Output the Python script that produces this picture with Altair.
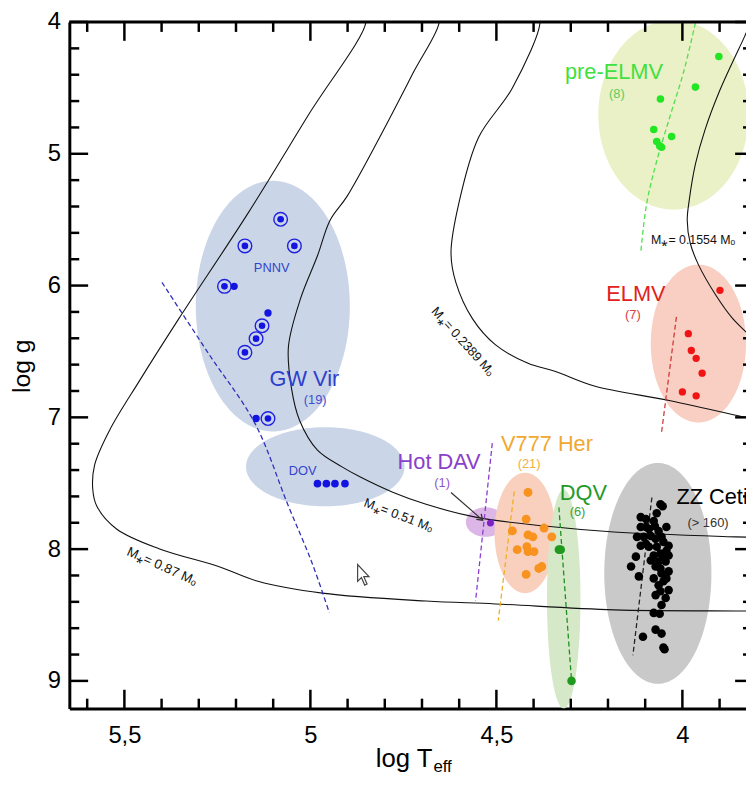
import altair as alt
import numpy as np
import pandas as pd

FONT = "Liberation Sans"
W, H = 684, 694
X_DOMAIN = [3.829, 5.648]
Y_DOMAIN = [4.0, 9.21]

# ---------------- axis ticks ----------------
x_major = [5.5, 5.0, 4.5, 4.0]
x_minor = [5.6, 5.4, 5.3, 5.2, 5.1, 4.9, 4.8, 4.7, 4.6, 4.4, 4.3, 4.2, 4.1, 3.9]
y_major = [4, 5, 6, 7, 8, 9]
y_minor = [4.2, 4.4, 4.6, 4.8, 5.2, 5.4, 5.6, 5.8, 6.2, 6.4, 6.6, 6.8,
           7.2, 7.4, 7.6, 7.8, 8.2, 8.4, 8.6, 8.8]

# ---------------- evolutionary tracks ----------------
trk087_T = [4.861, 4.851, 5.005, 5.168, 5.354, 5.460, 5.540, 5.580, 5.585, 5.574, 5.521,
            5.407, 5.247, 5.141, 4.968, 4.689, 4.503, 4.184, 3.856, 3.820]
trk087_g = [3.94, 4.0, 4.704, 5.452, 6.253, 6.725, 7.099, 7.361, 7.548, 7.675, 7.847,
            7.997, 8.132, 8.244, 8.334, 8.394, 8.416, 8.461, 8.469, 8.470]
trk051_T = [4.664, 4.654, 4.723, 4.814, 4.902, 4.947, 4.981, 5.027, 5.059, 5.051, 5.029,
            4.981, 4.915, 4.867, 4.777, 4.689, 4.556, 4.370, 4.184, 3.856, 3.820]
trk051_g = [3.94, 4.0, 4.382, 4.876, 5.325, 5.504, 5.774, 6.103, 6.463, 6.777, 7.024,
            7.249, 7.376, 7.451, 7.570, 7.660, 7.757, 7.825, 7.870, 7.907, 7.910]
trk02389_T = [4.393, 4.383, 4.457, 4.548, 4.601, 4.622, 4.609, 4.564, 4.503, 4.415, 4.343,
              4.237, 4.032, 3.830, 3.815]
trk02389_g = [3.94, 4.0, 4.501, 4.876, 5.377, 5.751, 5.976, 6.253, 6.448, 6.590, 6.650,
              6.762, 6.874, 7.001, 7.010]
trk01554_T = [3.819, 3.832, 3.899, 3.939, 3.965, 3.981, 3.987, 3.979, 3.957, 3.910, 3.864,
              3.827, 3.811]
trk01554_g = [4.022, 4.105, 4.516, 4.816, 5.078, 5.340, 5.504, 5.677, 5.841, 6.073, 6.253,
              6.358, 6.410]

# ---------------- instability-strip ellipses ----------------
ell_name = ["GW Vir", "DOV", "Hot DAV", "V777 Her", "DQV", "ZZ Ceti", "ELMV", "pre-ELMV"]
ell_T = [5.101, 4.960, 4.529, 4.423, 4.319, 4.066, 3.957, 4.024]
ell_g = [6.156, 7.375, 7.795, 7.877, 8.379, 8.184, 6.440, 4.704]
ell_rT = [0.207, 0.213, 0.053, 0.082, 0.045, 0.144, 0.128, 0.202]
ell_rg = [0.951, 0.300, 0.112, 0.457, 0.831, 0.838, 0.599, 0.719]
ell_col = ["#cad6e8", "#cad6e8", "#dcb6e6", "#f9d0bd", "#d5e8c8", "#c9c9c9", "#f9cec3", "#eaf1c6"]

# ---------------- dashed strip edges ----------------
dash_name = ["gwvir"] * 6 + ["hotdav"] * 2 + ["v777"] * 2 + ["dqv"] * 2 + ["zz"] * 2 + ["elmv"] * 2 + ["pre"] * 6
dash_T = [5.399, 5.274, 5.149, 5.061, 4.995, 4.949,
          4.511, 4.556,
          4.452, 4.495,
          4.332, 4.298,
          4.082, 4.133,
          4.016, 4.056,
          3.965, 3.997, 4.032, 4.069, 4.096, 4.112]
dash_g = [5.976, 6.515, 7.046, 7.660, 8.109, 8.484,
          7.196, 8.394,
          7.563, 8.543,
          7.683, 9.000,
          7.608, 8.805,
          6.238, 7.114,
          4.007, 4.382, 4.704, 5.055, 5.377, 5.751]
dash_colors = {"gwvir": "#3030b8", "hotdav": "#8a3ccc", "v777": "#f0b020", "dqv": "#1e8c1e",
               "zz": "#222222", "elmv": "#d03838", "pre": "#4ee04e"}

# ---------------- stars ----------------
pnnv_ring_T = [5.080, 5.176, 5.043, 5.231, 5.130, 5.146, 5.176, 5.114]
pnnv_ring_g = [5.497, 5.699, 5.699, 6.006, 6.305, 6.403, 6.507, 7.009]
pnnv_T = [5.205, 5.114, 5.146]
pnnv_g = [6.006, 6.208, 7.009]
dov_T = [4.981, 4.957, 4.934, 4.907]
dov_g = [7.503, 7.503, 7.503, 7.503]
hotdav_T = [4.516]
hotdav_g = [7.802]
v777_T = [4.415, 4.420, 4.457, 4.372, 4.351, 4.415, 4.402, 4.444, 4.418, 4.415, 4.399, 4.378, 4.386, 4.420]
v777_g = [7.570, 7.772, 7.862, 7.840, 7.907, 7.892, 7.907, 8.004, 7.982, 8.019, 8.019, 8.132, 8.147, 8.192]
dqv_T = [4.332, 4.327, 4.298]
dqv_g = [8.004, 8.004, 9.000]
zz_T = [4.059, 4.053, 4.069, 4.112, 4.098, 4.077, 4.112, 4.098, 4.043, 4.074,
        4.122, 4.104, 4.085, 4.072, 4.056, 4.051, 4.037, 4.112, 4.090, 4.069,
        4.043, 4.059, 4.077, 4.037, 4.125, 4.085, 4.064, 4.045, 4.138, 4.072,
        4.037, 4.056, 4.117, 4.077, 4.051, 4.064, 4.037, 4.059, 4.072, 4.045,
        4.056, 4.077, 4.061, 4.072, 4.056, 4.106, 4.051, 4.048,
        4.090, 4.064, 4.051, 4.098, 4.059, 4.043]
zz_g = [7.660, 7.675, 7.728, 7.757, 7.772, 7.787, 7.832, 7.832, 7.832, 7.825,
        7.907, 7.907, 7.900, 7.922, 7.907, 7.945, 7.975, 7.975, 7.982, 7.982,
        8.012, 8.034, 8.049, 8.049, 8.057, 8.087, 8.094, 8.094, 8.132, 8.132,
        8.169, 8.184, 8.207, 8.222, 8.244, 8.274, 8.311, 8.319, 8.349, 8.371,
        8.424, 8.484, 8.491, 8.611, 8.641, 8.665, 8.746, 8.760,
        7.847, 7.862, 8.072, 7.960, 8.147, 8.222]
elmv_T = [3.899, 3.984, 3.976, 3.963, 3.947, 4.000, 3.963]
elmv_g = [6.036, 6.365, 6.493, 6.552, 6.665, 6.807, 6.837]
pre_T = [3.902, 3.965, 4.059, 4.077, 4.029, 4.069, 4.056, 4.061]
pre_g = [4.262, 4.494, 4.584, 4.816, 4.868, 4.906, 4.951, 4.940]

# ---------------- labels ----------------
lab_txt = ["GW Vir", "(19)", "PNNV", "DOV", "Hot DAV", "(1)", "V777 Her", "(21)", "DQV", "(6)",
           "(> 160)", "ELMV", "(7)", "pre-ELMV", "(8)",
           "M⁎= 0.1554 Mₒ", "M⁎= 0.2389 Mₒ", "M⁎= 0.51 Mₒ", "M⁎= 0.87 Mₒ"]
lab_T = [5.016, 4.987, 5.104, 5.021, 4.654, 4.646, 4.364, 4.412, 4.266, 4.282,
         3.931, 4.125, 4.133, 4.184, 4.176, 3.971, 4.590, 4.763, 5.399]
lab_g = [6.710, 6.867, 5.864, 7.406, 7.338, 7.496, 7.204, 7.353, 7.578, 7.720,
         7.802, 6.066, 6.223, 4.382, 4.546, 5.654, 6.425, 7.743, 8.132]
lab_col = ["#2f3fcc", "#4050cc", "#3344cc", "#3344cc", "#8a40c8", "#9058c8", "#f0a830", "#f0b040",
           "#23992a", "#3aa03a", "#333333", "#e32020", "#d84040", "#40e040", "#5ccc5c",
           "#111111", "#111111", "#111111", "#111111"]
lab_fs = [22, 13, 13, 13, 22, 13, 22, 13, 22, 13, 13, 22, 13, 22, 13, 12.5, 13, 13, 13.5]
lab_ang = [0, 0, 0, 0, 0, 0, 0, 0, 0, 0, 0, 0, 0, 0, 0, 0, 48, 21, 24]

arrow_T = [4.622]
arrow_g = [7.570]
arrow_T2 = [4.537]
arrow_g2 = [7.780]

cursor_T = [4.857]
cursor_g = [8.199]

# ---------------- build tables ----------------
def track_df(name, T, g):
    return pd.DataFrame({"trk": name, "T": T, "g": g, "i": range(len(T))})

trk_df = pd.concat([track_df("0.87", trk087_T, trk087_g), track_df("0.51", trk051_T, trk051_g),
                    track_df("0.2389", trk02389_T, trk02389_g), track_df("0.1554", trk01554_T, trk01554_g)])

tt = np.linspace(0, np.pi, 121)
ell_rows = []
for n, cx, cy, rx, ry, c in zip(ell_name, ell_T, ell_g, ell_rT, ell_rg, ell_col):
    for t in tt:
        ell_rows.append({"name": n, "T": cx + rx * np.cos(t), "gt": cy - ry * np.sin(t),
                         "gb": cy + ry * np.sin(t), "col": c})
ell_df = pd.DataFrame(ell_rows)

dash_df = pd.DataFrame({"name": dash_name, "T": dash_T, "g": dash_g})
dash_df["col"] = dash_df["name"].map(dash_colors)
dash_df["i"] = range(len(dash_df))

def dot_df(T, g, col, sz):
    return pd.DataFrame({"T": T, "g": g, "col": col, "sz": sz})

dots_df = pd.concat([
    dot_df(pnnv_ring_T, pnnv_ring_g, "#1414e0", 45),
    dot_df(pnnv_T, pnnv_g, "#1414e0", 55),
    dot_df(dov_T, dov_g, "#1414e0", 60),
    dot_df(hotdav_T, hotdav_g, "#7a22c4", 50),
    dot_df(v777_T, v777_g, "#f7931e", 80),
    dot_df(dqv_T, dqv_g, "#1f9a1f", 75),
    dot_df(zz_T, zz_g, "#000000", 75),
    dot_df(elmv_T, elmv_g, "#f01414", 55),
    dot_df(pre_T, pre_g, "#22e622", 58),
])
ring_df = pd.DataFrame({"T": pnnv_ring_T, "g": pnnv_ring_g})
lab_df = pd.DataFrame({"T": lab_T, "g": lab_g, "txt": lab_txt, "col": lab_col, "fs": lab_fs, "ang": lab_ang})
arrow_df = pd.DataFrame({"T": arrow_T, "g": arrow_g, "T2": arrow_T2, "g2": arrow_g2})
cursor_df = pd.DataFrame({"T": cursor_T, "g": cursor_g})

# ---------------- scales / axes ----------------
xs = alt.Scale(domain=X_DOMAIN, reverse=True, nice=False, zero=False)
ys = alt.Scale(domain=Y_DOMAIN, reverse=True, nice=False, zero=False)
xaxis = alt.Axis(values=x_major, labelExpr="replace(format(datum.value, '.1~f'), '.', ',')",
                 ticks=False, grid=False, title=None, domainColor="black", domainWidth=3,
                 labelFont=FONT, labelFontSize=24, labelColor="black", labelPadding=15,
                 labelFlush=False, labelOverlap=False)
yaxis = alt.Axis(values=y_major, format="d", ticks=False, grid=False, title=None,
                 domainColor="black", domainWidth=3, labelFont=FONT, labelFontSize=24,
                 labelColor="black", labelPadding=9, labelFlush=False, labelOverlap=False)

def X(f):
    return alt.X(f, type="quantitative", scale=xs, axis=xaxis)

def Y(f):
    return alt.Y(f, type="quantitative", scale=ys, axis=yaxis, stack=None)

ellipses = alt.Chart(ell_df).mark_area(clip=True, opacity=1).encode(
    x=X("T"), y=Y("gt"), y2=alt.Y2("gb"), color=alt.Color("col:N", scale=None), detail="name:N")

tracks = alt.Chart(trk_df).mark_line(clip=True, color="#111111", strokeWidth=1.1,
                                     interpolate="catmull-rom").encode(
    x=X("T"), y=Y("g"), detail="trk:N", order="i:Q")

dashed = alt.Chart(dash_df).mark_line(clip=True, strokeWidth=1.3, strokeDash=[5, 3],
                                      interpolate="catmull-rom").encode(
    x=X("T"), y=Y("g"), color=alt.Color("col:N", scale=None), detail="name:N", order="i:Q")

arrow = alt.Chart(arrow_df).mark_rule(color="#333333", strokeWidth=1.2).encode(
    x=X("T"), y=Y("g"), x2=alt.X2("T2"), y2=alt.Y2("g2"))
head = alt.Chart(arrow_df).mark_point(shape="M -1 -0.7 L 0 0 L -1 0.7", filled=False, size=110,
                                      angle=42, strokeWidth=1.3, color="#333333", opacity=1).encode(
    x=X("T2"), y=Y("g2"))

rings = alt.Chart(ring_df).mark_point(shape="circle", filled=False, size=190, strokeWidth=1.4,
                                      color="#2020e0", opacity=1).encode(x=X("T"), y=Y("g"))
dots = alt.Chart(dots_df).mark_circle(opacity=1).encode(
    x=X("T"), y=Y("g"), color=alt.Color("col:N", scale=None), size=alt.Size("sz:Q", scale=None))

cursor = alt.Chart(cursor_df).mark_point(
    shape="M -0.55 -1 L -0.55 0.55 L -0.2 0.2 L 0.1 0.9 L 0.32 0.8 L 0.02 0.12 L 0.5 0.12 Z",
    filled=True, fill="white", stroke="#444444", strokeWidth=1.2, size=480, opacity=1).encode(
    x=X("T"), y=Y("g"))

labels = alt.Chart(lab_df).mark_text(font=FONT, align="center", baseline="middle").encode(
    x=X("T"), y=Y("g"), text="txt:N", color=alt.Color("col:N", scale=None),
    size=alt.Size("fs:Q", scale=None), angle=alt.Angle("ang:Q", scale=None))
zz_label = alt.Chart(pd.DataFrame({"T": [4.016], "g": [7.608], "txt": ["ZZ Ceti"]})).mark_text(
    font=FONT, fontSize=22, align="left", baseline="middle", color="black").encode(
    x=X("T"), y=Y("g"), text="txt:N")

# ---------------- frame and inward ticks ----------------
one = pd.DataFrame({"a": [0]})
xmaj = pd.DataFrame({"v": x_major})
xmin = pd.DataFrame({"v": x_minor})
ymaj = pd.DataFrame({"v": y_major})
ymin = pd.DataFrame({"v": y_minor})
TK = dict(color="black", strokeWidth=2.5)

frame_top = alt.Chart(one).mark_rule(color="black", strokeWidth=3).encode(
    x=alt.value(0), x2=alt.value(W), y=alt.value(0))
bt_maj = alt.Chart(xmaj).mark_rule(**TK).encode(x=X("v"), y=alt.value(H), y2=alt.value(H - 19))
bt_min = alt.Chart(xmin).mark_rule(**TK).encode(x=X("v"), y=alt.value(H), y2=alt.value(H - 10))
tp_maj = alt.Chart(xmaj).mark_rule(**TK).encode(x=X("v"), y=alt.value(0), y2=alt.value(19))
tp_min = alt.Chart(xmin).mark_rule(**TK).encode(x=X("v"), y=alt.value(0), y2=alt.value(10))
lf_maj = alt.Chart(ymaj).mark_rule(**TK).encode(y=Y("v"), x=alt.value(0), x2=alt.value(19))
lf_min = alt.Chart(ymin).mark_rule(**TK).encode(y=Y("v"), x=alt.value(0), x2=alt.value(10))
rt_maj = alt.Chart(ymaj).mark_rule(**TK).encode(y=Y("v"), x=alt.value(W), x2=alt.value(W - 11))
rt_min = alt.Chart(ymin).mark_rule(**TK).encode(y=Y("v"), x=alt.value(W), x2=alt.value(W - 3))

ytitle = alt.Chart(pd.DataFrame({"t": ["log g"]})).mark_text(
    font=FONT, fontSize=25, angle=270, color="black", align="center", baseline="middle").encode(
    text="t:N", x=alt.value(-48), y=alt.value(348))
xtitle1 = alt.Chart(pd.DataFrame({"t": ["log T"]})).mark_text(
    font=FONT, fontSize=26, color="black", align="right", baseline="alphabetic").encode(
    text="t:N", x=alt.value(367), y=alt.value(753))
xtitle2 = alt.Chart(pd.DataFrame({"t": ["eff"]})).mark_text(
    font=FONT, fontSize=17, color="black", align="left", baseline="alphabetic").encode(
    text="t:N", x=alt.value(368), y=alt.value(758))

chart = alt.layer(
    ellipses, tracks, dashed, arrow, head, rings, dots, cursor, labels, zz_label,
    bt_maj, bt_min, tp_maj, tp_min, lf_maj, lf_min, rt_maj, rt_min, frame_top,
    ytitle, xtitle1, xtitle2,
).properties(
    width=W, height=H,
    padding={"left": 62, "top": 10, "right": 0, "bottom": 65},
    autosize=alt.AutoSizeParams(type="none"),
).configure_view(stroke=None)

chart.save("out.html", embed_options={"renderer": "svg", "actions": False})
